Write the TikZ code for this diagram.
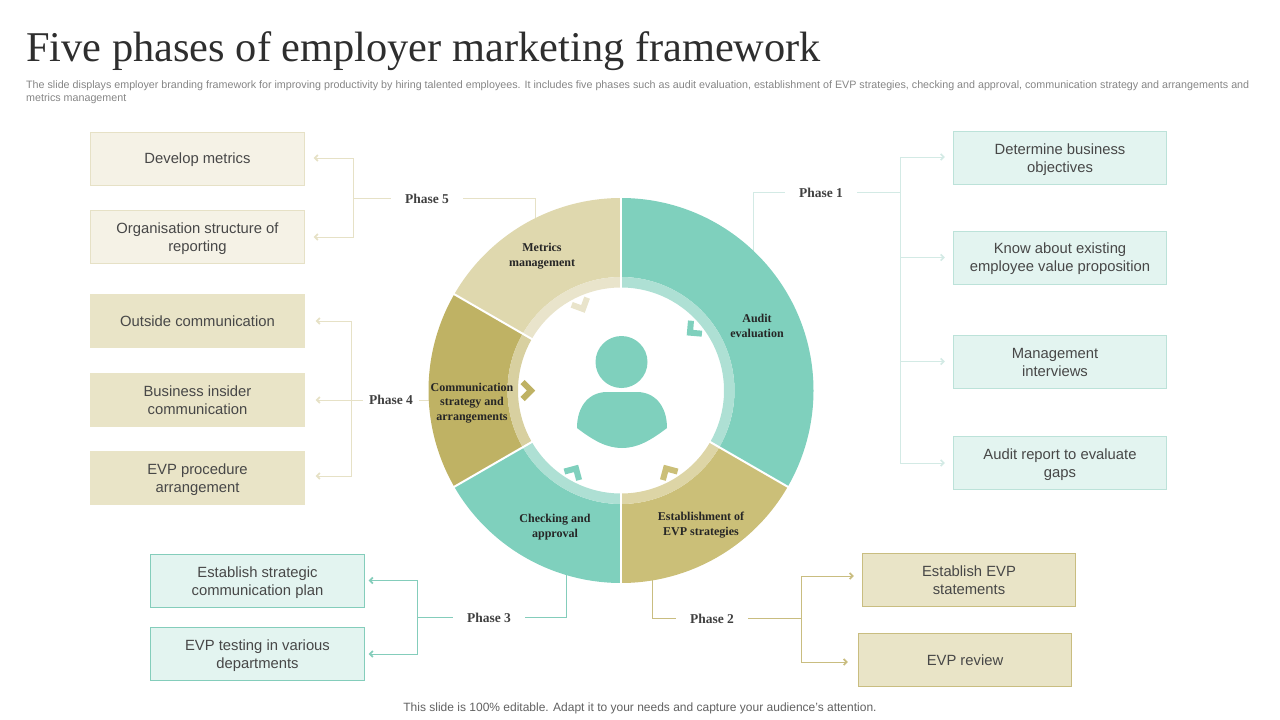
\documentclass[tikz,border=0pt]{standalone}
\usepackage{fontspec}
\setmainfont{Liberation Sans}
\newfontfamily\serifface{Liberation Serif}
\usetikzlibrary{arrows.meta,positioning,calc}
\definecolor{tealseg}{HTML}{7FD0BD}
\definecolor{tealband}{HTML}{AEE0D4}
\definecolor{tealpale}{HTML}{E3F4F0}
\definecolor{tealedge}{HTML}{BCE2D9}
\definecolor{tealline}{HTML}{84CDBB}
\definecolor{tealfaint}{HTML}{D3EAE5}
\definecolor{goldseg}{HTML}{CBBF78}
\definecolor{goldband}{HTML}{DDD5A6}
\definecolor{oliveseg}{HTML}{BFB264}
\definecolor{oliveband}{HTML}{D8D0A0}
\definecolor{sandseg}{HTML}{DFD8AE}
\definecolor{sandband}{HTML}{E9E4CB}
\definecolor{creampale}{HTML}{F5F2E6}
\definecolor{creamedge}{HTML}{E6E1C6}
\definecolor{tanbox}{HTML}{E9E4C7}
\definecolor{tanline}{HTML}{C9BD80}
\newcommand{\lowa}{\rule{0pt}{12.6pt}}
\newcommand{\lowb}{\rule{0pt}{14.6pt}}
\newcommand{\ringseg}[4]{%
  \fill[#3] (#1:192.5pt) arc[start angle=#1,end angle=#2,radius=192.5pt]
    -- (#2:113.5pt) arc[start angle=#2,end angle=#1,radius=113.5pt] -- cycle;
  \fill[#4] (#1:113.5pt) arc[start angle=#1,end angle=#2,radius=113.5pt]
    -- (#2:103pt) arc[start angle=#2,end angle=#1,radius=103pt] -- cycle;}
\newcommand{\chevron}[2]{%
  \draw[#2,line width=6pt] ($(#1:90pt)+(#1+45:12pt)$) -- (#1:90pt) -- ($(#1:90pt)+(#1-45:12pt)$);}
\begin{document}
\begin{tikzpicture}[
    x=1pt,y=-1pt,
    box/.style={minimum width=213.5pt,minimum height=53pt,align=center,inner sep=2pt,
        font=\fontsize{14.8}{18}\selectfont,text=black!72,line width=0.7pt},
    tealbox/.style={box,fill=tealpale,draw=tealedge},
    creambox/.style={box,fill=creampale,draw=creamedge},
    tanbox/.style={box,fill=tanbox,draw=tanbox},
    phase/.style={font=\serifface\bfseries\fontsize{13.5}{15}\selectfont,text=black!75,inner xsep=14pt,inner ysep=2pt},
    seglabel/.style={font=\serifface\bfseries\fontsize{12}{14.5}\selectfont,text=black!85,align=center},
    link/.style={line width=0.8pt},
    tip/.style={link,-{Straight Barb[length=3pt,width=6pt,line width=1.7pt]},shorten >=8pt},
    spoke/.style={draw=white,line width=2pt}]
\useasboundingbox (0,0) rectangle (1280,720);
% header and footer
\node[anchor=base west,inner sep=0pt,font=\serifface\fontsize{42.4}{45}\selectfont,text=black!82] (title) at (26,61.5)
    {Five phases of employer marketing framework};
\node[anchor=north west,inner sep=0pt,align=left,text=black!48,font=\fontsize{10.72}{13}\selectfont] (intro) at (26,81)
    {The slide displays employer branding framework for improving productivity by hiring talented employees. It includes five phases such as audit evaluation, establishment of EVP strategies, checking and approval, communication strategy and arrangements and\\metrics management};
\node[text=black!62,inner sep=0pt,font=\fontsize{12}{14}\selectfont] (footer) at (640,708.5)
    {This slide is 100\% editable. Adapt it to your needs and capture your audience's attention.};
% boxes
\node[creambox] (develop) at (197.5,159) {\lowa Develop metrics};
\node[creambox] (orgreport) at (197.5,237) {\lowb Organisation structure of\\reporting};
\node[tanbox] (outside) at (197.5,321) {Outside communication};
\node[tanbox] (insider) at (197.5,400) {Business insider\\communication};
\node[tanbox] (procedure) at (197.5,478) {\lowb EVP procedure\\arrangement};
\node[tealbox] (objectives) at (1060,158) {\lowb Determine business\\objectives};
\node[tealbox] (proposition) at (1060,257.5) {\lowa Know about existing\\employee value proposition};
\node[tealbox] (interviews) at (1060,361.5) {\lowa Management\hspace*{10pt}\\interviews\hspace*{10pt}};
\node[tealbox] (gaps) at (1060,463) {\lowb Audit report to evaluate\\gaps};
\node[tanbox,draw=tanline] (statements) at (969,579.5) {\lowa Establish EVP\\statements};
\node[tanbox,draw=tanline] (review) at (965,660) {EVP review};
\node[tealbox,draw=tealline] (commplan) at (257.5,580.5) {\lowb Establish strategic\\communication plan};
\node[tealbox,draw=tealline] (testing) at (257.5,654) {\lowb EVP testing in various\\departments};
% phases and their joints
\node[phase] (phaseone) at (821,192.5) {Phase 1};
\node[phase] (phasetwo) at (712,618.5) {Phase 2};
\node[phase] (phasethree) at (489,617.5) {Phase 3};
\node[phase,inner xsep=6pt] (phasefour) at (391,400) {Phase 4};
\node[phase] (phasefive) at (427,198.5) {Phase 5};
\coordinate (auditin) at (753,260);
\coordinate (evpin) at (652,570);
\coordinate (checkin) at (566,570);
\coordinate (commin) at (440,400);
\coordinate (metricsin) at (535,230);
\coordinate (jointone) at (900,192.5);
\coordinate (jointtwo) at (801,618.5);
\coordinate (jointthree) at (417,617.5);
\coordinate (jointfour) at (351.5,400);
\coordinate (jointfive) at (353,198.5);
% connectors
\begin{scope}[draw=tealfaint,color=tealfaint]
\draw[link] (phaseone.west) -| (auditin);
\draw[link] (phaseone.east) -- (jointone);
\draw[tip] (jointone) |- ([yshift=1pt]objectives.west);
\draw[tip] (jointone) |- (proposition.west);
\draw[tip] (jointone) |- (interviews.west);
\draw[tip] (jointone) |- (gaps.west);
\end{scope}
\begin{scope}[draw=tanline,color=tanline]
\draw[link] (phasetwo.west) -| (evpin);
\draw[link] (phasetwo.east) -- (jointtwo);
\draw[tip] (jointtwo) |- ([yshift=3.5pt]statements.west);
\draw[tip,shorten >=10pt] (jointtwo) |- ([yshift=-2pt]review.west);
\end{scope}
\begin{scope}[draw=tealline,color=tealline]
\draw[link] (phasethree.east) -| (checkin);
\draw[link] (phasethree.west) -- (jointthree);
\draw[tip,shorten >=4pt] (jointthree) |- (commplan.east);
\draw[tip,shorten >=4pt] (jointthree) |- (testing.east);
\end{scope}
\begin{scope}[draw=creamedge,color=creamedge]
\draw[link] (phasefour.east) -- (commin);
\draw[tip,shorten >=11pt] (phasefour.west) -- (insider.east);
\draw[tip,shorten >=11pt] (jointfour) |- (outside.east);
\draw[tip,shorten >=11pt] (jointfour) |- ([yshift=2pt]procedure.east);
\draw[link] (phasefive.east) -| (metricsin);
\draw[link] (phasefive.west) -- (jointfive);
\draw[tip,shorten >=9pt] (jointfive) |- ([yshift=1pt]develop.east);
\draw[tip,shorten >=9pt] (jointfive) |- (orgreport.east);
\end{scope}
% ring
\begin{scope}[shift={(621,390.5)}]
\ringseg{90}{-30}{tealseg}{tealband}
\ringseg{-30}{-90}{goldseg}{goldband}
\ringseg{-90}{-150}{tealseg}{tealband}
\ringseg{-150}{-210}{oliveseg}{oliveband}
\ringseg{150}{90}{sandseg}{sandband}
\draw[spoke] (90:102pt) -- (90:194pt);
\draw[spoke] (-30:102pt) -- (-30:194pt);
\draw[spoke] (-90:102pt) -- (-90:194pt);
\draw[spoke] (-150:102pt) -- (-150:194pt);
\draw[spoke] (150:102pt) -- (150:194pt);
\chevron{40}{tealseg}
\chevron{-60}{goldseg}
\chevron{-120}{tealseg}
\chevron{180}{oliveseg}
\chevron{115}{sandband}
\end{scope}
% person
\fill[tealseg] (621.5,362) circle[radius=26];
\fill[tealseg] (577,428) .. controls (577,405) and (590,392) .. (607,392) -- (637,392)
    .. controls (654,392) and (667,405) .. (667,428)
    .. controls (650,441) and (637,448) .. (622,448)
    .. controls (607,448) and (594,441) .. (577,428) -- cycle;
% ring labels
\node[seglabel] (auditlabel) at (757,326) {Audit\\evaluation};
\node[seglabel] (evplabel) at (701,525) {Establishment of\\EVP strategies};
\node[seglabel] (checklabel) at (555,527) {Checking and\\approval};
\node[seglabel] (commlabel) at (472,403) {Communication\\strategy and\\arrangements};
\node[seglabel] (metricslabel) at (542,256) {Metrics\\management};
\end{tikzpicture}
\end{document}
